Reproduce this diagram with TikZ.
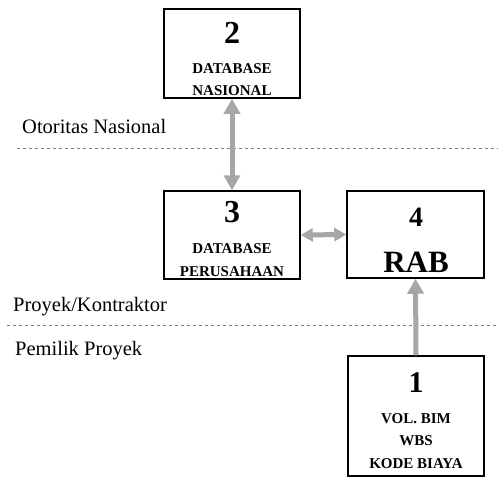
\documentclass[tikz,border=0pt]{standalone}
\usepackage{fontspec}
\setmainfont{Liberation Serif}
\usepackage{tikz}
\usetikzlibrary{arrows.meta}

\tikzset{
	box/.style={draw=black, line width=1.5pt, inner sep=0pt, minimum width=136pt},
	num/.style={font=\fontsize{32}{32}\selectfont\bfseries},
	boxtext/.style={font=\fontsize{15}{22.5}\selectfont\bfseries, align=center},
	levtext/.style={font=\fontsize{20.5}{24}\selectfont, anchor=base west, inner sep=0pt},
	flow/.style={draw=gray!70, line width=5pt},
	sep/.style={draw=gray, line width=0.9pt, dash pattern=on 3pt off 3pt}
}

\begin{document}
\begin{tikzpicture}[x=1pt, y=-1pt]
	\useasboundingbox (0,0) rectangle (498,477);

	%boxes
	\node[box, minimum height=89pt] (nas) at (232,53.5) {};
	\node[box, minimum height=88pt] (per) at (232,235) {};
	\node[box, minimum height=87pt, minimum width=137pt] (rab) at (415.5,234.5) {};
	\node[box, minimum height=120pt] (bim) at (416,416) {};

	%box texts
	\node[num] (nasnum) at (232,32.5) {2};
	\node[boxtext] (naslbl) at (232,79.5) {DATABASE\\NASIONAL};
	%
	\node[num] (pernum) at (232,212) {3};
	\node[boxtext] (perlbl) at (232,260) {DATABASE\\PERUSAHAAN};
	%
	\node[num, font=\fontsize{28}{28}\selectfont\bfseries] (rabnum) at (416,217) {4};
	\node[font=\fontsize{31}{31}\selectfont\bfseries] (rablbl) at (416,262) {RAB};
	%
	\node[num, font=\fontsize{30}{30}\selectfont\bfseries] (bimnum) at (416,383) {1};
	\node[boxtext] (bimlbl) at (416,441) {VOL. BIM\\WBS\\KODE BIAYA};

	%level lines
	\coordinate (s1a) at (17,148);
	\coordinate (s1b) at (498,148);
	\coordinate (s2a) at (7,325);
	\coordinate (s2b) at (498,325);
	\draw[sep] (s1a)--(s1b);
	\draw[sep] (s2a)--(s2b);

	%level labels
	\node[levtext] (oto) at (22,133) {Otoritas Nasional};
	\node[levtext] (kon) at (13,311) {Proyek/Kontraktor};
	\node[levtext] (pem) at (15,355) {Pemilik Proyek};

	%arrows
	\draw[flow, {Triangle[length=15pt,width=16pt]}-{Triangle[length=15pt,width=16pt]}] (nas.south)--(per.north);
	\draw[flow, {Triangle[length=12pt,width=13pt]}-{Triangle[length=12pt,width=13pt]}] (per.east)--(rab.west);
	\draw[flow, -{Triangle[length=15pt,width=16pt]}] (bim.north)--(rab.south);
\end{tikzpicture}
\end{document}
